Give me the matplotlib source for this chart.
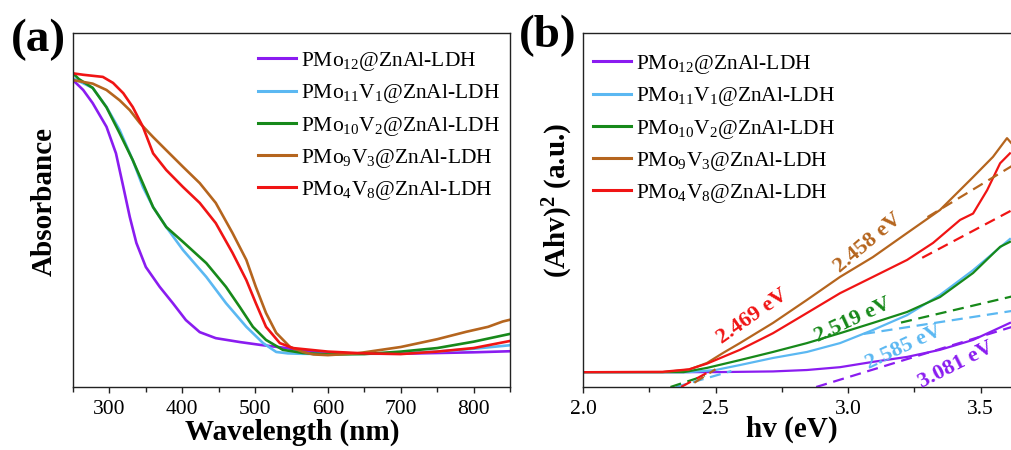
import matplotlib
matplotlib.use('Agg')
import matplotlib.pyplot as plt
from matplotlib.ticker import MultipleLocator, NullLocator, FormatStrFormatter

plt.rcParams['font.family'] = ['Liberation Serif', 'DejaVu Serif']
plt.rcParams['mathtext.fontset'] = 'custom'
plt.rcParams['mathtext.rm'] = 'Liberation Serif'
plt.rcParams['mathtext.it'] = 'Liberation Serif:italic'
plt.rcParams['mathtext.bf'] = 'Liberation Serif:bold'
plt.rcParams['mathtext.default'] = 'rm'

# ---------------- data ----------------
labels = [r'PMo$_{12}$@ZnAl-LDH', r'PMo$_{11}$V$_{1}$@ZnAl-LDH', r'PMo$_{10}$V$_{2}$@ZnAl-LDH',
          r'PMo$_{9}$V$_{3}$@ZnAl-LDH', r'PMo$_{4}$V$_{8}$@ZnAl-LDH']
colors = ['#8A1CF0', '#5BB8F2', '#17891A', '#B5651E', '#F01414']

# (a) UV-vis absorbance (arbitrary units)
wl_pmo12 = [250, 264, 277, 296, 309, 319, 328, 337, 350, 369, 387, 405, 424, 446, 479, 507, 543, 560,
            600, 650, 700, 750, 800, 850]
ab_pmo12 = [0.867, 0.839, 0.802, 0.735, 0.66, 0.566, 0.48, 0.407, 0.339, 0.283, 0.237, 0.189, 0.155,
            0.138, 0.127, 0.119, 0.11, 0.104, 0.097, 0.094, 0.094, 0.096, 0.098, 0.101]
wl_pmo11v1 = [250, 277, 296, 314, 332, 346, 360, 378, 401, 433, 460, 488, 511, 529, 545, 560, 600,
              650, 700, 750, 800, 850]
ab_pmo11v1 = [0.872, 0.845, 0.791, 0.726, 0.641, 0.565, 0.508, 0.452, 0.387, 0.311, 0.237, 0.17, 0.124,
              0.099, 0.095, 0.094, 0.093, 0.094, 0.096, 0.1, 0.108, 0.118]
wl_pmo10v2 = [250, 258, 277, 296, 314, 332, 346, 360, 378, 401, 433, 460, 479, 497, 515, 538, 566, 600,
              650, 700, 750, 800, 850]
ab_pmo10v2 = [0.886, 0.87, 0.845, 0.79, 0.717, 0.641, 0.575, 0.508, 0.452, 0.41, 0.35, 0.283, 0.226, 0.17,
              0.133, 0.105, 0.096, 0.092, 0.093, 0.1, 0.11, 0.128, 0.15]
wl_pmo9v3 = [250, 277, 296, 314, 328, 342, 360, 378, 401, 424, 446, 469, 488, 501, 515, 529, 548, 566,
             580, 600, 640, 680, 700, 750, 790, 820, 840, 850]
ab_pmo9v3 = [0.867, 0.857, 0.839, 0.81, 0.782, 0.745, 0.706, 0.669, 0.622, 0.576, 0.52, 0.435, 0.359,
             0.283, 0.209, 0.153, 0.113, 0.099, 0.092, 0.09, 0.095, 0.107, 0.113, 0.135, 0.156, 0.17,
             0.185, 0.19]
wl_pmo4v8 = [250, 264, 291, 305, 319, 332, 346, 360, 378, 401, 424, 446, 469, 488, 501, 515, 534, 552,
             600, 650, 700, 750, 800, 850]
ab_pmo4v8 = [0.886, 0.882, 0.876, 0.859, 0.83, 0.791, 0.735, 0.66, 0.613, 0.565, 0.52, 0.463, 0.379,
             0.302, 0.237, 0.17, 0.124, 0.11, 0.1, 0.095, 0.093, 0.1, 0.11, 0.13]

# (b) Tauc plot (arbitrary units)
hv_pmo12 = [2.0, 2.5, 2.717, 2.845, 2.97, 3.094, 3.223, 3.347, 3.472, 3.611]
ta_pmo12 = [0.042, 0.042, 0.044, 0.048, 0.056, 0.071, 0.085, 0.105, 0.133, 0.181]
hv_pmo11v1 = [2.0, 2.4, 2.5, 2.592, 2.717, 2.845, 2.97, 3.094, 3.223, 3.347, 3.472, 3.611]
ta_pmo11v1 = [0.042, 0.042, 0.048, 0.062, 0.082, 0.099, 0.124, 0.161, 0.203, 0.26, 0.33, 0.418]
hv_pmo10v2 = [2.0, 2.38, 2.468, 2.592, 2.717, 2.845, 2.97, 3.094, 3.223, 3.347, 3.472, 3.574, 3.611]
ta_pmo10v2 = [0.042, 0.042, 0.054, 0.076, 0.099, 0.124, 0.152, 0.181, 0.212, 0.254, 0.322, 0.396, 0.41]
hv_pmo9v3 = [2.0, 2.3, 2.4, 2.468, 2.528, 2.592, 2.717, 2.845, 2.97, 3.094, 3.223, 3.347, 3.472, 3.547,
             3.6, 3.615]
ta_pmo9v3 = [0.042, 0.042, 0.049, 0.068, 0.096, 0.124, 0.181, 0.246, 0.311, 0.367, 0.435, 0.5, 0.593,
             0.65, 0.703, 0.69]
hv_pmo4v8 = [2.0, 2.3, 2.4, 2.468, 2.592, 2.717, 2.845, 2.97, 3.094, 3.223, 3.321, 3.423, 3.472, 3.525,
             3.574, 3.611]
ta_pmo4v8 = [0.042, 0.043, 0.05, 0.066, 0.105, 0.152, 0.209, 0.265, 0.311, 0.359, 0.407, 0.472, 0.49,
             0.556, 0.632, 0.66]

# tangent (extrapolation) dashed segments per series: list of (x0, x1), (y0, y1)
fit_pmo12 = [((2.88, 3.62), (0.0, 0.17))]
fit_pmo11v1 = [((2.35, 2.56), (0.0, 0.045)), ((3.06, 3.62), (0.15, 0.215))]
fit_pmo10v2 = [((2.33, 2.46), (0.0, 0.032)), ((3.2, 3.62), (0.182, 0.256))]
fit_pmo9v3 = [((2.42, 2.50), (0.012, 0.05)), ((3.3, 3.62), (0.48, 0.625))]
fit_pmo4v8 = [((2.37, 2.48), (0.0, 0.045)), ((3.28, 3.62), (0.365, 0.5))]

gap_text = ['3.081 eV', '2.585 eV', '2.519 eV', '2.458 eV', '2.469 eV']
gap_pos = [(3.408, 0.062), (3.211, 0.113), (3.019, 0.189), (3.075, 0.407), (2.638, 0.198)]
gap_rot = [27, 25, 25, 40, 35]

# ---------------- figure ----------------
W, H = 1011, 450
fig = plt.figure(figsize=(W / 100, H / 100), dpi=100)


def fx(px):
    return px / W


def fy(py):
    return 1 - py / H


axA = fig.add_axes([fx(73), fy(387), (510 - 73) / W, (387 - 33) / H])
axB = fig.add_axes([fx(583), fy(387), (W - 583) / W, (387 - 33) / H])

wls = [wl_pmo12, wl_pmo11v1, wl_pmo10v2, wl_pmo9v3, wl_pmo4v8]
abss = [ab_pmo12, ab_pmo11v1, ab_pmo10v2, ab_pmo9v3, ab_pmo4v8]
for x, y, c, lab in zip(wls, abss, colors, labels):
    axA.plot(x, y, color=c, lw=1.9, label=lab)
axA.set_xlim(250, 850)
axA.set_ylim(0, 1)
axA.xaxis.set_major_locator(MultipleLocator(100))
axA.xaxis.set_minor_locator(MultipleLocator(50))
axA.yaxis.set_major_locator(NullLocator())

hvs = [hv_pmo12, hv_pmo11v1, hv_pmo10v2, hv_pmo9v3, hv_pmo4v8]
tas = [ta_pmo12, ta_pmo11v1, ta_pmo10v2, ta_pmo9v3, ta_pmo4v8]
fits = [fit_pmo12, fit_pmo11v1, fit_pmo10v2, fit_pmo9v3, fit_pmo4v8]
for x, y, c, lab in zip(hvs, tas, colors, labels):
    axB.plot(x, y, color=c, lw=1.6, label=lab, zorder=2)
for segs, c in zip(fits, colors):
    for sx, sy in segs:
        axB.plot(sx, sy, color=c, lw=1.6, linestyle=(0, (5, 3)), zorder=2.5)
for t, p, r, c in zip(gap_text, gap_pos, gap_rot, colors):
    axB.text(p[0], p[1], t, color=c, rotation=r, rotation_mode='anchor', ha='center', va='center',
             fontsize=16, fontweight='bold', zorder=3)
axB.set_xlim(2.0, 2.0 + (W - 583) / 265)
axB.set_ylim(0, 1)
axB.xaxis.set_major_locator(MultipleLocator(0.5))
axB.xaxis.set_minor_locator(MultipleLocator(0.25))
axB.xaxis.set_major_formatter(FormatStrFormatter('%.1f'))
axB.yaxis.set_major_locator(NullLocator())
axB.spines['right'].set_visible(False)

for ax in (axA, axB):
    for s in ax.spines.values():
        s.set_linewidth(1.0)
        s.set_color('#222222')
    ax.tick_params(axis='x', which='both', direction='out', top=False, bottom=True, labelsize=15.5,
                   width=1.0, color='#222222', pad=5.5)
    ax.tick_params(axis='x', which='major', length=4)
    ax.tick_params(axis='x', which='minor', length=3.5)
    ax.tick_params(axis='y', which='both', left=False, right=False, labelleft=False)

legA = axA.legend(loc='upper left', bbox_to_anchor=(fx(258), fy(50)), bbox_transform=fig.transFigure,
                  frameon=False, fontsize=15.5, borderpad=0, borderaxespad=0, handlelength=1.75,
                  handletextpad=0.25, labelspacing=0.43)
for l in legA.get_lines():
    l.set_linewidth(2.2)
legB = axB.legend(loc='upper left', bbox_to_anchor=(fx(593), fy(53)), bbox_transform=fig.transFigure,
                  frameon=False, fontsize=15.5, borderpad=0, borderaxespad=0, handlelength=1.75,
                  handletextpad=0.25, labelspacing=0.43)
for l in legB.get_lines():
    l.set_linewidth(2.2)

# axis titles and panel tags
fig.text(fx(292), fy(432), 'Wavelength (nm)', ha='center', va='center', fontsize=21, fontweight='bold')
fig.text(fx(44), fy(202), 'Absorbance', ha='center', va='center', rotation=90, fontsize=21,
         fontweight='bold')
fig.text(fx(792), fy(429), 'hv (eV)', ha='center', va='center', fontsize=21, fontweight='bold')
fig.text(fx(558), fy(200), r'(Ahv)$^{\mathbf{2}}$ (a.u.)', ha='center', va='center', rotation=90,
         fontsize=21, fontweight='bold')
fig.text(fx(38), fy(40), '(a)', ha='center', va='center', fontsize=34, fontweight='bold')
fig.text(fx(548), fy(36), '(b)', ha='center', va='center', fontsize=34, fontweight='bold')

fig.savefig('out.png', dpi=100)
